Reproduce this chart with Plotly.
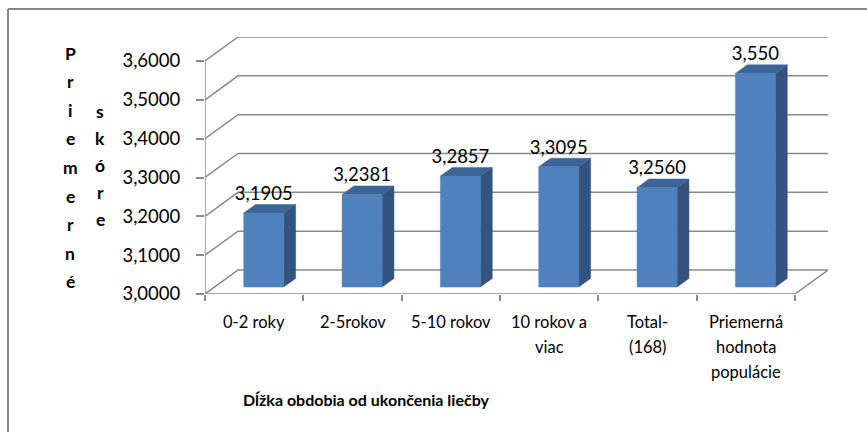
import plotly.graph_objects as go

# ---- data ----
categories = ["0-2 roky", "2-5rokov", "5-10 rokov", "10 rokov a<br>viac",
              "Total-<br>(168)", "Priemerná<br>hodnota<br>populácie"]
values = [3.1905, 3.2381, 3.2857, 3.3095, 3.2560, 3.550]
value_labels = ["3,1905", "3,2381", "3,2857", "3,3095", "3,2560", "3,550"]
y_ticks = [3.0, 3.1, 3.2, 3.3, 3.4, 3.5, 3.6]
y_ticktext = ["3,0000", "3,1000", "3,2000", "3,3000", "3,4000", "3,5000", "3,6000"]
x_title = "Dĺžka obdobia od ukončenia liečby"
y_title_1 = "Priemerné"
y_title_2 = "skóre"

# ---- layout geometry (pixels) ----
W, H = 867, 432
PL, PR, PT, PB = 205, 828, 37, 294          # plot area
n = len(categories)
cat_px = (795 - 205) / n                    # px per category on front plane
px_per_unit = (294 - 61) / 0.6              # px per 1.0 of value
x0 = -0.5
xr = [x0, x0 + (PR - PL) / cat_px]
yr = [3.0, 3.0 + (PB - PT) / px_per_unit]
DX = 33 / cat_px                            # depth vector in data units
DY = 24 / px_per_unit
f1, f2 = 0.29, 0.65                         # bar depth span
bw = 40 / cat_px                            # bar width

grid_col = "#8a8a8a"
front_col = "#4f81bd"
top_col = "#3d6496"
side_col = "#33547e"
FONT = "Lato"

fig = go.Figure()

# back wall grid + left diagonals
gx, gy = [], []
for v in y_ticks:
    gx += [x0, x0 + DX, n - 0.5 + DX, None]
    gy += [v, v + DY, v + DY, None]
# floor front edge & right diagonal, front axis line
gx += [x0, n - 0.5, n - 0.5 + DX, None, x0, x0, None]
gy += [3.0, 3.0, 3.0 + DY, None, 3.0, y_ticks[-1], None]
fig.add_trace(go.Scatter(x=gx, y=gy, mode="lines", line=dict(color=grid_col, width=1.5),
                         hoverinfo="skip", showlegend=False))

# bars as 3D prisms
sx, sy, tx, ty, fx, fy = [], [], [], [], [], []
for i, v in enumerate(values):
    l = i - bw / 2 + f1 * DX
    r = i + bw / 2 + f1 * DX
    b = 3.0 + f1 * DY
    t = v + f1 * DY
    ddx, ddy = (f2 - f1) * DX, (f2 - f1) * DY
    fx += [l, r, r, l, l, None]
    fy += [b, b, t, t, b, None]
    sx += [r, r + ddx, r + ddx, r, r, None]
    sy += [b, b + ddy, t + ddy, t, b, None]
    tx += [l, r, r + ddx, l + ddx, l, None]
    ty += [t, t, t + ddy, t + ddy, t, None]
for xs, ys, c in [(sx, sy, side_col), (tx, ty, top_col), (fx, fy, front_col)]:
    fig.add_trace(go.Scatter(x=xs, y=ys, mode="lines", fill="toself", fillcolor=c,
                             line=dict(color=c, width=0.5), hoverinfo="skip",
                             showlegend=False))

# value labels
fig.add_trace(go.Scatter(
    x=[i + f1 * DX for i in range(n)],
    y=[v + f2 * DY for v in values],
    mode="text", text=value_labels, textposition="top center",
    textfont=dict(family=FONT, size=18.5, color="#000000"),
    cliponaxis=False, hoverinfo="skip", showlegend=False))

def px2py(py):
    return (PB - py) / (PB - PT)

def px2px(px):
    return (px - PL) / (PR - PL)

annotations = []
# category labels, one annotation per line
for i, lab in enumerate(categories):
    for j, line in enumerate(lab.split("<br>")):
        annotations.append(dict(x=i, xref="x", y=px2py(322 + 25 * j), yref="paper",
                                text=line, showarrow=False, xanchor="center",
                                yanchor="middle",
                                font=dict(family=FONT, size=16.5, color="#000000")))
# x title
annotations.append(dict(x=px2px(366), xref="paper", y=px2py(400), yref="paper",
                        text="<b>" + x_title + "</b>", showarrow=False,
                        xanchor="center", yanchor="middle",
                        font=dict(family=FONT, size=16, color="#000000")))
# y title stacked letters
for k, ch in enumerate(y_title_1):
    annotations.append(dict(x=px2px(70), xref="paper", y=px2py(53 + 28.6 * k), yref="paper",
                            text="<b>" + ch + "</b>", showarrow=False, xanchor="center",
                            yanchor="middle",
                            font=dict(family=FONT, size=17.5, color="#000000")))
for k, ch in enumerate(y_title_2):
    annotations.append(dict(x=px2px(100), xref="paper", y=px2py(111 + 27.2 * k), yref="paper",
                            text="<b>" + ch + "</b>", showarrow=False, xanchor="center",
                            yanchor="middle",
                            font=dict(family=FONT, size=17.5, color="#000000")))

shapes = [
    dict(type="line", xref="paper", yref="paper", x0=px2px(8), x1=px2px(8),
         y0=px2py(9), y1=px2py(440), line=dict(color="#868686", width=2)),
    dict(type="line", xref="paper", yref="paper", x0=px2px(8), x1=px2px(880),
         y0=px2py(9), y1=px2py(9), line=dict(color="#868686", width=2)),
]

fig.update_layout(
    width=W, height=H,
    margin=dict(l=PL, r=W - PR, t=PT, b=H - PB, pad=0),
    paper_bgcolor="white", plot_bgcolor="white",
    showlegend=False,
    xaxis=dict(range=xr, showgrid=False, zeroline=False, showline=False,
               tickvals=[k - 0.5 for k in range(n + 1)], ticktext=[""] * (n + 1),
               ticks="outside", ticklen=6, tickwidth=1.5, tickcolor=grid_col,
               fixedrange=True),
    yaxis=dict(range=yr, showgrid=False, zeroline=False, showline=False,
               tickvals=y_ticks, ticktext=y_ticktext,
               ticks="outside", ticklen=8, tickwidth=1.5, tickcolor=grid_col,
               ticklabelstandoff=12,
               tickfont=dict(family=FONT, size=18.5, color="#000000"),
               fixedrange=True),
    annotations=annotations,
    shapes=shapes,
)

fig.write_html("out.html", config={"displayModeBar": False},
               post_script="document.body.style.margin='0';document.body.style.overflow='hidden';")
